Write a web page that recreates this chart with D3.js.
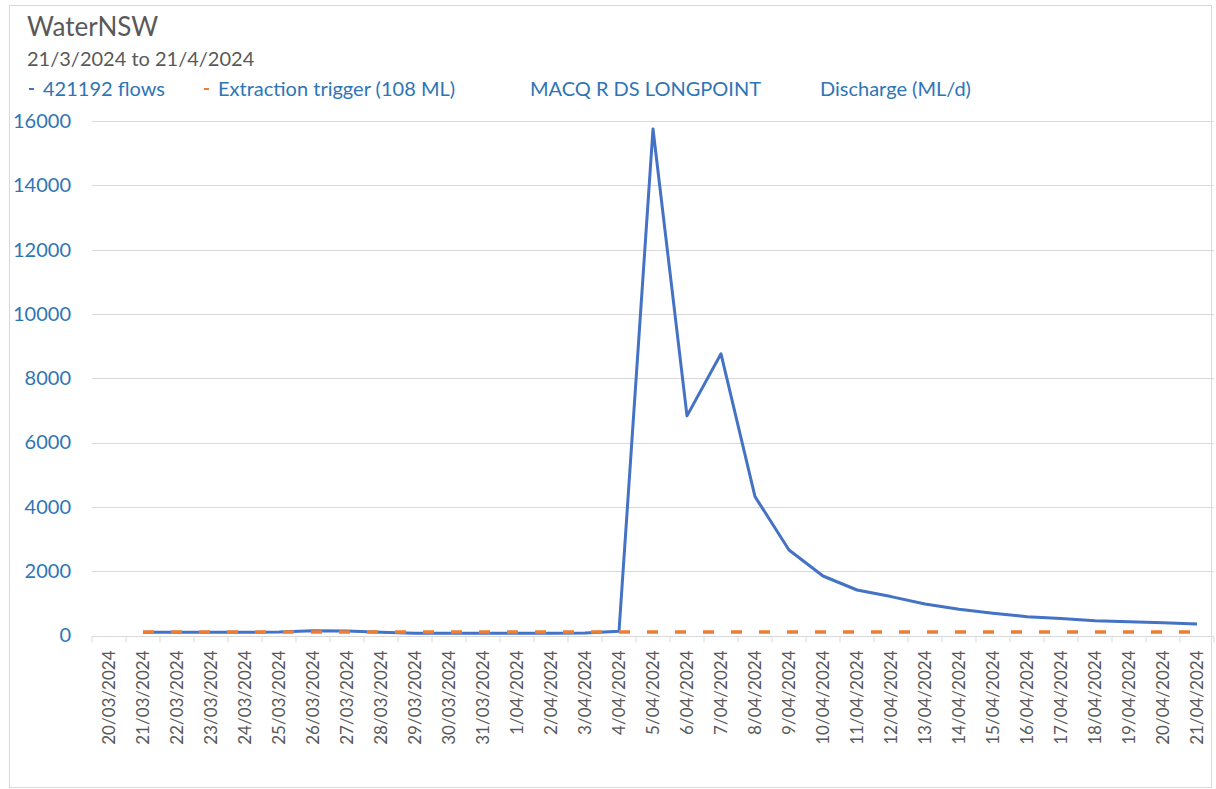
<!DOCTYPE html>
<html>
<head>
<meta charset="utf-8">
<script src="https://cdn.jsdelivr.net/npm/d3@7"></script>
<style>
  body { margin: 0; background: #fff; }
  text { font-family: Lato, "Open Sans", sans-serif; }
</style>
</head>
<body>
<div id="chart"></div>
<script>
// dates on the category axis
var dates = ["20/03/2024", "21/03/2024", "22/03/2024", "23/03/2024", "24/03/2024", "25/03/2024",
  "26/03/2024", "27/03/2024", "28/03/2024", "29/03/2024", "30/03/2024", "31/03/2024",
  "1/04/2024", "2/04/2024", "3/04/2024", "4/04/2024", "5/04/2024", "6/04/2024", "7/04/2024",
  "8/04/2024", "9/04/2024", "10/04/2024", "11/04/2024", "12/04/2024", "13/04/2024",
  "14/04/2024", "15/04/2024", "16/04/2024", "17/04/2024", "18/04/2024", "19/04/2024",
  "20/04/2024", "21/04/2024"];

// 421192 flows, ML/d (no reading on 20/03)
var flows = [null, 100, 100, 100, 100, 110, 150, 140, 100, 70, 70, 70,
  70, 70, 80, 130, 15750, 6830, 8760, 4320, 2660, 1850, 1415, 1210, 980,
  815, 690, 585, 525, 460, 430, 400, 360];

// extraction trigger
var trigger = [null, 108, 108, 108, 108, 108, 108, 108, 108, 108, 108, 108,
  108, 108, 108, 108, 108, 108, 108, 108, 108, 108, 108, 108, 108,
  108, 108, 108, 108, 108, 108, 108, 108];

var yTicks = [0, 2000, 4000, 6000, 8000, 10000, 12000, 14000, 16000];

var legendItems = [
  {label: "421192 flows", color: "#4472C4", marker: true},
  {label: "Extraction trigger (108 ML)", color: "#ED7D31", marker: true},
  {label: "MACQ R DS LONGPOINT", color: null, marker: false},
  {label: "Discharge (ML/d)", color: null, marker: false}
];

var width = 1216, height = 789;
var plot = {left: 92, right: 1214, top: 121, bottom: 635.5};

var svg = d3.select("#chart").append("svg")
    .attr("width", width)
    .attr("height", height);

// chart area border
svg.append("rect")
    .attr("x", 9.5).attr("y", 5.5)
    .attr("width", 1202).attr("height", 782)
    .attr("fill", "#fff")
    .attr("stroke", "#d9d9d9");

svg.append("text")
    .attr("x", 27).attr("y", 36)
    .attr("font-size", 26)
    .attr("fill", "#595959")
    .text("WaterNSW");

svg.append("text")
    .attr("x", 27).attr("y", 66)
    .attr("font-size", 20)
    .attr("fill", "#595959")
    .text("21/3/2024 to 21/4/2024");

var x = d3.scaleBand()
    .domain(dates)
    .range([plot.left, plot.right])
    .padding(0);

var y = d3.scaleLinear()
    .domain([0, 16000])
    .range([plot.bottom, plot.top]);

// gridlines
svg.append("g")
    .selectAll("line")
    .data(yTicks.slice(1))
    .enter().append("line")
    .attr("x1", plot.left).attr("x2", plot.right)
    .attr("y1", function(d) { return Math.round(y(d)) + 0.5; })
    .attr("y2", function(d) { return Math.round(y(d)) + 0.5; })
    .attr("stroke", "#d9d9d9")
    .attr("stroke-width", 1);

// y axis labels
var gy = svg.append("g")
    .attr("transform", "translate(" + plot.left + ",0)")
    .call(d3.axisLeft(y).tickValues(yTicks).tickSize(0).tickPadding(21).tickFormat(d3.format("d")));
gy.select(".domain").remove();
gy.selectAll("text")
    .attr("font-size", 20)
    .attr("fill", "#2E75B6")
    .style("font-family", "Lato, sans-serif");

// x axis with ticks between categories
var gx = svg.append("g")
    .attr("transform", "translate(0," + (Math.round(plot.bottom) + 0.5) + ")");
gx.append("line")
    .attr("x1", plot.left).attr("x2", plot.right)
    .attr("stroke", "#d9d9d9");
gx.selectAll(".tick")
    .data(dates.concat(["end"]))
    .enter().append("line")
    .attr("class", "tick")
    .attr("x1", function(d, i) { return plot.left + i * x.bandwidth(); })
    .attr("x2", function(d, i) { return plot.left + i * x.bandwidth(); })
    .attr("y1", 0).attr("y2", 6)
    .attr("stroke", "#d9d9d9");
gx.selectAll(".lbl")
    .data(dates)
    .enter().append("text")
    .attr("class", "lbl")
    .attr("transform", function(d) {
      return "translate(" + (x(d) + x.bandwidth() / 2) + ",14)rotate(-90)";
    })
    .attr("text-anchor", "end")
    .attr("dy", "0.35em")
    .attr("font-size", 17)
    .attr("fill", "#595959")
    .text(function(d) { return d; });

function seriesLine(values) {
  return d3.line()
    .defined(function(d) { return d != null; })
    .x(function(d, i) { return x(dates[i]) + x.bandwidth() / 2; })
    .y(function(d) { return y(d); })(values);
}

svg.append("path")
    .attr("d", seriesLine(flows))
    .attr("fill", "none")
    .attr("stroke", "#4472C4")
    .attr("stroke-width", 3)
    .attr("stroke-linejoin", "round");

svg.append("path")
    .attr("d", seriesLine(trigger))
    .attr("fill", "none")
    .attr("stroke", "#ED7D31")
    .attr("stroke-width", 3.5)
    .attr("stroke-dasharray", "11,17");

// legend
var legendX = [29, 204, 530, 820];
var legend = svg.append("g");
legendItems.forEach(function(item, i) {
  if (item.marker) {
    legend.append("line")
      .attr("x1", legendX[i]).attr("x2", legendX[i] + 5)
      .attr("y1", 89).attr("y2", 89)
      .attr("stroke", item.color)
      .attr("stroke-width", 2);
  }
  legend.append("text")
    .attr("x", item.marker ? legendX[i] + 14 : legendX[i])
    .attr("y", 96)
    .attr("font-size", 20)
    .attr("fill", "#2E75B6")
    .text(item.label);
});
</script>
</body>
</html>
